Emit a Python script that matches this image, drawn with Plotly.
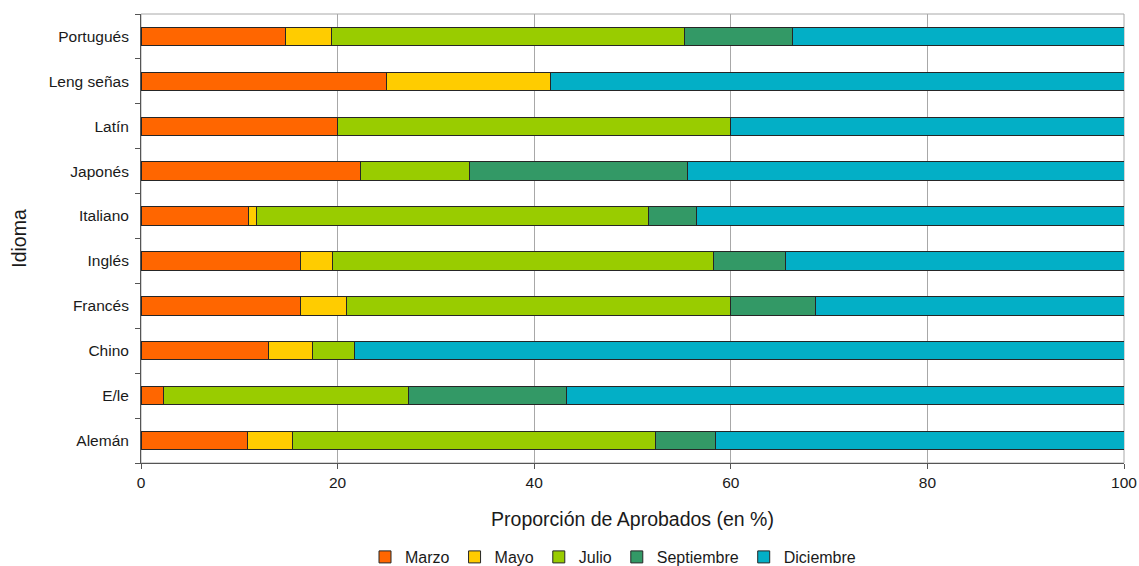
import plotly.graph_objects as go

idiomas = ["Alemán", "E/le", "Chino", "Francés", "Inglés", "Italiano",
           "Japonés", "Latín", "Leng señas", "Portugués"]

marzo      = [10.8, 2.3, 13.0, 16.2, 16.2, 10.9, 22.3, 20.0, 25.0, 14.7]
mayo       = [4.6, 0.0, 4.4, 4.7, 3.3, 0.9, 0.0, 0.0, 16.7, 4.7]
julio      = [36.9, 24.9, 4.3, 39.1, 38.7, 39.8, 11.1, 40.0, 0.0, 35.9]
septiembre = [6.1, 16.1, 0.0, 8.6, 7.4, 4.9, 22.2, 0.0, 0.0, 11.0]
diciembre  = [41.6, 56.7, 78.3, 31.4, 34.4, 43.5, 44.4, 40.0, 58.3, 33.7]

series = [
    ("Marzo", marzo, "#FF6600"),
    ("Mayo", mayo, "#FFCC00"),
    ("Julio", julio, "#99CC00"),
    ("Septiembre", septiembre, "#339966"),
    ("Diciembre", diciembre, "#03AFC6"),
]

FONT = "Liberation Sans, Arial, sans-serif"
TXT = "#1a1a1a"

W, H = 1139, 566

fig = go.Figure()
for name, vals, color in series:
    fig.add_trace(go.Bar(
        y=idiomas, x=vals, name=name, orientation="h",
        marker=dict(color=color, line=dict(color="#262626", width=1)),
        width=0.41,
    ))

fig.update_layout(
    barmode="stack",
    width=W, height=H,
    margin=dict(l=141, r=15, t=14, b=103, autoexpand=False),
    paper_bgcolor="white", plot_bgcolor="white",
    font=dict(family=FONT, size=15.5, color=TXT),
    showlegend=True,
    legend=dict(orientation="h", x=613 / W, xref="container", xanchor="center",
                y=9 / H, yref="container", yanchor="middle",
                font=dict(family=FONT, size=16, color=TXT),
                traceorder="normal", itemwidth=30),
    shapes=[dict(type="rect", xref="paper", yref="paper", x0=0, x1=1, y0=0, y1=1,
                 line=dict(color="#A8A8A8", width=1), layer="below")],
)

fig.update_xaxes(
    range=[0, 100], tickvals=[0, 20, 40, 60, 80, 100],
    showgrid=True, gridcolor="#A8A8A8", gridwidth=1,
    showline=True, linecolor="#555", linewidth=1,
    ticks="outside", ticklen=5, tickcolor="#555",
    tickfont=dict(family=FONT, size=15.5, color=TXT),
    title=dict(text="Proporción de Aprobados (en %)", font=dict(family=FONT, size=19.5, color=TXT),
               standoff=22),
    zeroline=False, automargin=False,
)
fig.update_yaxes(
    categoryorder="array", categoryarray=idiomas,
    showgrid=False,
    showline=True, linecolor="#555", linewidth=1,
    ticks="outside", ticklen=5, tickcolor="#555", tickson="boundaries",
    ticklabelstandoff=8,
    tickfont=dict(family=FONT, size=15.5, color=TXT),
    title=dict(text="Idioma", font=dict(family=FONT, size=19.5, color=TXT), standoff=16),
    range=[-0.5, 9.5], automargin=False,
)

fig.write_html("out.html",
               config={"displayModeBar": False},
               post_script="document.body.style.margin='0';document.body.style.overflow='hidden';")
